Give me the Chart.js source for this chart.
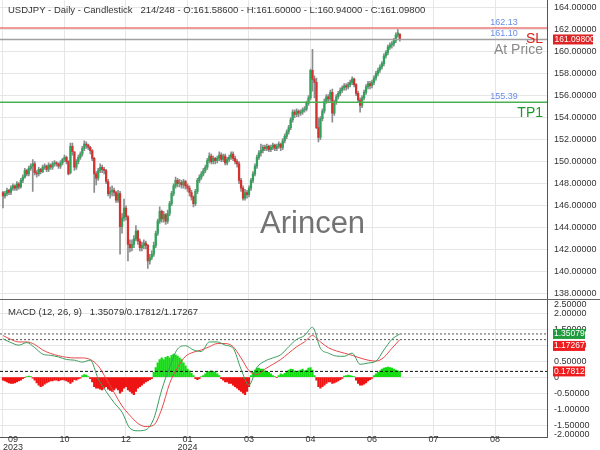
<!DOCTYPE html>
<html>
<head>
<meta charset="utf-8">
<script src="https://cdn.jsdelivr.net/npm/chart.js@4.4.1/dist/chart.umd.min.js"></script>
<style>
  html, body { margin: 0; padding: 0; background: #fff; }
  #wrap { position: relative; width: 600px; height: 450px; overflow: hidden; }
  #main { position: absolute; left: 0; top: 0; }
  #sep { position: absolute; left: 0; top: 299px; width: 600px; height: 1px; background: #666; }
  #macd { position: absolute; left: 0; top: 300px; }
</style>
</head>
<body>
<div id="wrap">
  <canvas id="main" width="600" height="299"></canvas>
  <div id="sep"></div>
  <canvas id="macd" width="600" height="150"></canvas>
</div>
<script>
// USDJPY daily candles (bar index 0..200)
const opens = [
  147.2,146.9,147.1,147.4,147.2,147.6,147.8,147.6,148.0,147.7,
  148.3,148.6,149.2,148.9,149.4,149.6,149.8,149.0,148.9,149.3,
  149.1,149.5,149.6,149.3,149.7,149.5,149.8,149.9,149.8,149.6,
  149.9,150.2,150.4,150.0,149.0,151.4,150.9,149.5,150.0,150.4,
  150.7,151.2,151.6,151.5,151.3,151.0,150.3,148.9,148.5,149.2,
  149.5,149.3,149.2,148.2,147.1,147.3,147.4,147.2,146.5,147.1,
  144.1,144.9,145.8,145.0,142.5,142.2,142.5,143.0,143.7,142.8,
  142.2,142.4,142.6,142.4,141.0,141.3,141.6,142.4,143.5,144.6,
  145.5,144.8,145.2,144.6,145.3,146.2,147.1,147.8,148.3,148.0,
  148.1,147.9,148.2,147.8,147.6,147.2,146.8,146.2,147.3,148.3,
  148.6,148.9,149.2,149.5,150.1,150.5,150.0,150.3,150.1,150.3,
  150.6,150.2,150.5,149.9,150.2,150.4,150.7,150.3,150.0,149.8,
  148.3,147.6,146.7,147.2,147.0,147.6,148.3,148.9,149.6,150.4,
  150.8,151.0,151.3,151.2,151.4,151.1,151.3,151.5,151.2,151.4,
  151.6,151.3,151.9,152.3,152.7,153.1,153.8,154.5,154.3,154.6,
  154.4,154.5,154.7,154.8,155.3,155.8,158.3,157.5,157.2,153.1,
  152.2,153.9,154.6,155.5,155.9,155.7,156.3,154.4,155.4,155.9,
  156.2,156.5,156.7,156.9,156.8,157.0,157.2,157.5,157.0,156.2,
  155.6,155.1,155.8,156.3,156.8,157.1,156.9,157.2,157.6,158.0,
  158.3,158.6,158.9,159.6,159.9,160.4,160.6,160.7,161.0,161.5,
  161.586
];
const highs = [
  147.3,147.3,147.6,147.5,147.8,148.0,147.9,148.2,148.1,148.5,
  148.8,149.4,149.3,149.6,149.8,150.2,150.0,149.2,149.5,149.4,
  149.7,149.8,149.7,149.9,149.8,150.0,150.1,150.0,149.9,150.1,
  150.3,150.6,150.5,150.1,151.7,151.7,150.9,150.2,150.6,150.9,
  151.4,151.9,151.8,151.6,151.4,151.1,150.4,149.1,149.4,149.8,
  149.7,149.5,149.3,148.4,147.7,147.8,147.6,147.3,147.4,147.3,
  145.3,146.6,146.0,145.1,142.9,142.9,143.3,144.2,143.8,143.0,
  142.7,142.9,142.8,142.5,141.6,141.9,142.7,143.7,144.8,145.9,
  145.6,145.5,145.3,145.6,146.4,147.3,148.0,148.6,148.5,148.4,
  148.3,148.4,148.3,148.0,147.8,147.4,146.9,147.5,148.5,148.8,
  149.1,149.4,149.7,150.3,150.8,150.7,150.5,150.4,150.5,150.9,
  150.8,150.7,150.7,150.4,150.6,150.9,150.9,150.5,150.2,150.0,
  148.5,147.8,147.5,147.4,147.8,148.5,149.1,149.8,150.6,151.0,
  151.6,151.5,151.5,151.6,151.5,151.5,151.7,151.6,151.6,151.8,
  151.7,152.1,152.5,152.9,153.3,154.0,154.7,154.7,154.8,154.7,
  154.7,154.9,155.0,155.5,156.0,158.4,160.2,157.8,157.6,154.0,
  154.1,154.8,155.7,156.1,156.1,156.5,156.6,155.6,156.1,156.4,
  156.7,156.9,157.1,157.1,157.2,157.4,157.7,157.6,157.1,156.4,
  155.8,156.0,156.5,157.0,157.3,157.3,157.4,157.8,158.2,158.5,
  158.8,159.1,159.8,160.1,160.6,160.8,160.9,161.2,161.7,162.0,
  161.6
];
const lows = [
  145.8,146.7,146.9,147.0,147.0,147.4,147.4,147.4,147.5,147.6,
  148.1,148.5,148.7,148.7,149.2,147.3,148.8,148.6,148.7,148.9,
  149.0,149.3,149.1,149.1,149.3,149.3,149.6,149.6,149.4,149.4,
  149.7,150.0,149.8,148.8,148.9,150.6,149.2,149.3,149.8,150.2,
  150.5,151.0,151.2,151.1,150.7,150.1,147.2,147.9,148.3,149.0,
  149.0,148.9,148.0,146.9,146.7,146.9,146.9,146.3,146.3,141.6,
  143.5,144.6,144.7,141.0,141.8,141.9,142.2,142.8,142.5,141.9,
  141.9,142.1,142.1,140.3,140.7,141.1,141.4,142.2,143.3,144.4,
  144.5,144.5,144.3,144.4,145.1,146.0,146.9,147.6,147.7,147.7,
  147.6,147.6,147.5,147.3,146.9,146.5,145.9,146.0,147.1,148.1,
  148.4,148.7,149.0,149.3,149.9,149.8,149.8,149.8,149.9,150.1,
  150.0,150.0,149.7,149.7,150.0,150.2,150.1,149.8,149.5,148.0,
  147.3,146.5,146.5,146.7,146.8,147.4,148.1,148.7,149.4,150.2,
  150.5,150.8,151.0,151.0,150.9,150.9,151.1,151.0,151.0,151.2,
  151.0,151.1,151.7,152.1,152.5,152.9,153.6,154.0,154.1,154.1,
  154.2,154.3,154.5,154.6,155.1,155.6,156.4,155.8,153.0,151.8,
  152.0,153.7,154.4,155.3,155.4,155.5,153.6,154.2,155.2,155.7,
  156.0,156.3,156.5,156.5,156.6,156.8,157.0,156.8,156.0,155.4,
  154.5,154.9,155.6,156.1,156.6,156.6,156.7,157.0,157.4,157.8,
  158.1,158.4,158.7,159.4,159.7,160.2,160.3,160.5,160.8,161.3,
  160.94
];
const closes = [
  146.9,147.1,147.4,147.2,147.6,147.8,147.6,148.0,147.7,148.3,
  148.6,149.2,148.9,149.4,149.6,149.8,149.0,148.9,149.3,149.1,
  149.5,149.6,149.3,149.7,149.5,149.8,149.9,149.8,149.6,149.9,
  150.2,150.4,150.0,148.9,151.4,150.9,149.5,150.0,150.4,150.7,
  151.2,151.6,151.5,151.3,151.0,150.3,148.9,148.5,149.2,149.5,
  149.3,149.2,148.2,147.1,147.3,147.4,147.2,146.5,147.1,144.1,
  144.9,145.8,145.0,142.5,142.2,142.5,143.0,143.7,142.8,142.2,
  142.4,142.6,142.4,141.0,141.3,141.6,142.4,143.5,144.6,145.5,
  144.8,145.2,144.6,145.3,146.2,147.1,147.8,148.3,148.0,148.1,
  147.9,148.2,147.8,147.6,147.2,146.8,146.2,147.3,148.3,148.6,
  148.9,149.2,149.5,150.1,150.5,150.0,150.3,150.1,150.3,150.6,
  150.2,150.5,149.9,150.2,150.4,150.7,150.3,150.0,149.8,148.3,
  147.6,146.7,147.2,147.0,147.6,148.3,148.9,149.6,150.4,150.8,
  151.0,151.3,151.2,151.4,151.1,151.3,151.5,151.2,151.4,151.6,
  151.3,151.9,152.3,152.7,153.1,153.8,154.5,154.3,154.6,154.4,
  154.5,154.7,154.8,155.3,155.8,158.3,157.5,157.2,153.1,152.2,
  153.9,154.6,155.5,155.9,155.7,156.3,154.4,155.4,155.9,156.2,
  156.5,156.7,156.9,156.8,157.0,157.2,157.5,157.0,156.2,155.6,
  155.1,155.8,156.3,156.8,157.1,156.9,157.2,157.6,158.0,158.3,
  158.6,158.9,159.6,159.9,160.4,160.6,160.7,161.0,161.5,161.7,
  161.098
];

// MACD (12, 26, 9): lines read every 4th bar, histogram every bar
const macd = [
  1.2,1.08,1.0,1.08,0.92,0.72,0.68,0.63,0.55,0.53,
  0.47,0.53,-0.05,-0.45,-0.8,-1.1,-1.6,-1.68,-1.65,-1.3,
  -0.4,0.31,0.88,0.98,0.85,0.8,1.1,1.1,1.0,0.9,
  0.25,-0.25,0.3,0.5,0.6,0.7,0.95,1.18,1.3,1.56,
  0.9,0.75,0.66,0.65,0.75,0.4,0.44,0.5,0.85,1.18,
  1.35079
];
const signal = [
  1.3,1.18,1.1,1.1,1.02,0.85,0.74,0.67,0.62,0.6,
  0.6,0.55,0.35,-0.05,-0.48,-0.9,-1.2,-1.45,-1.55,-1.5,
  -1.0,-0.2,0.3,0.65,0.78,0.85,0.95,1.05,1.05,0.95,
  0.6,0.2,0.08,0.25,0.4,0.55,0.75,0.95,1.1,1.3,
  1.1,0.92,0.82,0.75,0.68,0.6,0.53,0.5,0.62,0.9,
  1.17267
];
const hist = [
  -0.1,-0.12,-0.15,-0.18,-0.2,-0.2,-0.18,-0.15,-0.12,-0.1,
  -0.05,-0.02,0.02,0.03,0.02,-0.03,
  -0.1,-0.18,-0.25,-0.3,-0.28,-0.22,
  -0.18,-0.15,-0.12,-0.12,-0.1,-0.1,-0.12,-0.1,-0.08,-0.1,-0.12,-0.15,-0.2,-0.15,-0.08,-0.1,-0.06,-0.03,
  0.05,0.08,0.06,0.02,
  -0.05,-0.15,-0.3,-0.35,-0.35,-0.38,-0.4,-0.35,-0.3,-0.38,
  -0.42,-0.45,-0.4,-0.35,-0.4,-0.5,-0.45,-0.35,-0.3,-0.4,-0.45,-0.5,-0.55,-0.45,-0.35,
  -0.3,-0.25,-0.2,-0.15,-0.12,-0.08,-0.05,
  0.15,0.3,0.45,0.55,0.6,0.55,0.62,0.65,0.6,0.68,0.72,
  0.7,0.66,0.6,0.55,0.45,
  0.35,0.25,0.2,0.12,0.05,
  -0.05,-0.08,-0.05,0.02,
  0.05,0.1,0.15,0.18,0.2,0.18,0.15,0.1,0.05,
  -0.05,-0.1,-0.15,-0.15,-0.2,-0.2,-0.25,-0.3,-0.35,-0.4,
  -0.45,-0.5,-0.55,-0.45,-0.3,
  0.05,0.15,0.22,0.28,0.28,0.25,0.25,0.2,0.18,0.15,0.1,0.05,0.02,-0.02,0.05,0.1,0.08,
  0.12,0.18,0.22,0.25,0.24,0.2,0.18,0.2,0.22,0.25,0.2,0.22,0.28,0.3,0.22,0.05,
  -0.1,-0.3,-0.35,-0.3,-0.25,-0.2,-0.15,-0.15,-0.2,-0.18,-0.15,-0.12,-0.08,-0.04,
  0.03,0.05,0.06,0.05,0.03,0.01,
  -0.1,-0.2,-0.25,-0.25,-0.22,-0.18,-0.12,-0.08,-0.04,
  0.05,0.1,0.15,0.2,0.25,0.28,0.3,0.31,0.3,0.28,0.25,0.22,0.2,0.17812
];

// axes
const xTicks = [0, 31, 62, 93, 124, 155, 186, 217, 248];
const xTickLabels = [["09", "2023"], ["10"], ["12"], ["01", "2024"], ["03"], ["04"], ["06"], ["07"], ["08"]];
const priceTicks = [164, 162, 160, 158, 156, 154, 152, 150, 148, 146, 144, 142, 140, 138];
const macdTicks = [2, 1.5, 1, 0.5, 0, -0.5, -1, -1.5];

// trade levels
const levelValues = [162.13, 161.10, 155.39];
const levelNames = ["SL", "At Price", "TP1"];

const FONT = "'Liberation Sans', Arial, sans-serif";
const X_MIN = -1.5, X_MAX = 274.2;
const GRID = "#e6e6e6";
const levelColors = ["rgba(232,96,96,0.85)", "#a0a0a0", "#4caf50"];
const levelTextColors = ["#e0201c", "#8a8a8a", "#1c9a2c"];

Chart.defaults.font.family = FONT;
Chart.defaults.font.size = 9;
Chart.defaults.color = "#333";

function flatLine(v) {
  return [{ x: X_MIN, y: v }, { x: X_MAX, y: v }];
}
function setXTicks(scale) {
  scale.ticks = xTicks.map(v => ({ value: v }));
}
// right value axis; tiny line height keeps the axis from padding the plot
function valueAxis(min, max, ticks, fmt) {
  return {
    position: "right",
    min: min,
    max: max,
    afterBuildTicks: s => { s.ticks = ticks.map(v => ({ value: v })); },
    afterFit: s => { s.width = 53; },
    ticks: { padding: 0, color: "#333", font: { size: 9, lineHeight: 0.05 }, callback: fmt },
    grid: { color: GRID, drawTicks: true, tickLength: 7, tickColor: "rgba(0,0,0,0)" },
    border: { color: "#555" }
  };
}

const candleColors = closes.map((c, i) => (c >= opens[i] ? "#2ea35a" : "#d8302e"));
const lastClose = closes[closes.length - 1];
const lastIdx = closes.length - 1;

const mainOverlay = {
  id: "mainOverlay",
  afterDraw(chart) {
    const { ctx } = chart;
    const y = chart.scales.y;
    ctx.save();
    ctx.textBaseline = "middle";
    ctx.textAlign = "left";
    ctx.fillStyle = "#333";
    ctx.font = "9.5px " + FONT;
    ctx.fillText("USDJPY - Daily - Candlestick   214/248 - O:" + opens[lastIdx].toFixed(5) +
      " - H:" + highs[lastIdx].toFixed(5) + " - L:" + lows[lastIdx].toFixed(5) +
      " - C:" + lastClose.toFixed(5), 8, 10);

    ctx.font = "31px " + FONT;
    ctx.fillStyle = "rgba(80,80,80,0.8)";
    ctx.fillText("Arincen", 260, 224);

    levelValues.forEach((v, k) => {
      const py = y.getPixelForValue(v);
      ctx.font = "9px " + FONT;
      ctx.fillStyle = "#6a8ee6";
      ctx.textAlign = "center";
      ctx.textBaseline = "bottom";
      ctx.fillText(v.toFixed(2), 504, py - 1);
      ctx.font = "14px " + FONT;
      ctx.fillStyle = levelTextColors[k];
      ctx.textAlign = "right";
      ctx.textBaseline = "top";
      ctx.fillText(levelNames[k], 543, py + 4);
    });

    const py = y.getPixelForValue(lastClose);
    ctx.fillStyle = "#dc2424";
    ctx.fillRect(553, py - 5, 40, 10);
    ctx.fillStyle = "#fff";
    ctx.font = "8.5px " + FONT;
    ctx.textAlign = "left";
    ctx.textBaseline = "middle";
    ctx.fillText(lastClose.toFixed(5), 554.5, py);
    ctx.restore();
  }
};

new Chart(document.getElementById("main"), {
  type: "bar",
  data: {
    datasets: [
      {
        data: highs.map((h, i) => ({ x: i, y: [lows[i], h] })),
        backgroundColor: "#8c8c8c",
        barThickness: 1,
        grouped: false,
        order: 3
      },
      {
        data: closes.map((c, i) => ({ x: i, y: [opens[i], c] })),
        backgroundColor: candleColors,
        barThickness: 1.6,
        minBarLength: 1,
        grouped: false,
        order: 2
      },
      ...levelValues.map((v, k) => ({
        type: "line",
        data: flatLine(v),
        borderColor: levelColors[k],
        borderWidth: 1.5,
        pointRadius: 0,
        order: 1
      }))
    ]
  },
  options: {
    responsive: false,
    animation: false,
    layout: { padding: 0, autoPadding: false },
    plugins: { legend: { display: false }, tooltip: { enabled: false } },
    scales: {
      x: {
        type: "linear",
        offset: false,
        min: X_MIN,
        max: X_MAX,
        afterBuildTicks: setXTicks,
        ticks: { display: false },
        grid: { color: GRID, drawTicks: false, offset: false },
        border: { display: false }
      },
      y: valueAxis(137.554, 164.662, priceTicks, v => v.toFixed(5))
    }
  },
  plugins: [mainOverlay]
});

const macdLast = macd[macd.length - 1];
const signalLast = signal[signal.length - 1];
const histLast = hist[hist.length - 1];

const macdOverlay = {
  id: "macdOverlay",
  afterDraw(chart) {
    const { ctx, chartArea } = chart;
    const x = chart.scales.x;
    const y = chart.scales.y;
    ctx.save();
    ctx.font = "9.5px " + FONT;
    ctx.fillStyle = "#333";
    ctx.textAlign = "left";
    ctx.textBaseline = "middle";
    ctx.fillText("MACD (12, 26, 9)   " + macdLast.toFixed(5) + "/" + histLast.toFixed(5) + "/" +
      signalLast.toFixed(5), 8, 12);

    // edge labels of the value axis
    ctx.font = "9px " + FONT;
    ctx.fillText("2.50000", 554, 5);
    ctx.save();
    ctx.beginPath();
    ctx.rect(548, 0, 52, chartArea.bottom);
    ctx.clip();
    ctx.fillText("-2.00000", 554, 135);
    ctx.restore();

    // time labels
    ctx.textAlign = "center";
    ctx.fillStyle = "#333";
    xTicks.forEach((v, k) => {
      const px = Math.max(x.getPixelForValue(v), 13);
      xTickLabels[k].forEach((line, j) => ctx.fillText(line, px, chartArea.bottom + 3 + j * 8));
    });

    // value badges
    const badges = [
      [macdLast, "#1f9a3c"],
      [signalLast, "#ee1c1c"],
      [histLast, "#ee1c1c"]
    ];
    let prevBottom = -Infinity;
    ctx.textAlign = "left";
    ctx.font = "8.5px " + FONT;
    badges.forEach(([v, col]) => {
      let top = y.getPixelForValue(v) - 5;
      if (top < prevBottom + 2) top = prevBottom + 2;
      ctx.fillStyle = col;
      ctx.fillRect(553, top, 32, 10);
      ctx.fillStyle = "#fff";
      ctx.fillText(v.toFixed(5), 554, top + 5);
      prevBottom = top + 10;
    });
    ctx.restore();
  }
};

new Chart(document.getElementById("macd"), {
  type: "bar",
  data: {
    datasets: [
      {
        data: hist.map((v, i) => ({ x: i, y: v })),
        backgroundColor: hist.map(v => (v >= 0 ? "#12dd12" : "#ee1414")),
        barThickness: 1.6,
        grouped: false,
        order: 3
      },
      {
        type: "line",
        data: macd.map((v, k) => ({ x: k * 4, y: v })),
        borderColor: "#3a9e5e",
        borderWidth: 1,
        pointRadius: 0,
        cubicInterpolationMode: "monotone",
        order: 1
      },
      {
        type: "line",
        data: signal.map((v, k) => ({ x: k * 4, y: v })),
        borderColor: "#e84848",
        borderWidth: 1,
        pointRadius: 0,
        cubicInterpolationMode: "monotone",
        order: 1
      },
      { type: "line", data: flatLine(macdLast), borderColor: "#555", borderWidth: 1, borderDash: [2, 2], pointRadius: 0, order: 2 },
      { type: "line", data: flatLine(signalLast), borderColor: "#555", borderWidth: 1, borderDash: [2, 2], pointRadius: 0, order: 2 },
      { type: "line", data: flatLine(histLast), borderColor: "#111", borderWidth: 1, borderDash: [3, 2], pointRadius: 0, order: 2 }
    ]
  },
  options: {
    responsive: false,
    animation: false,
    layout: { padding: 0, autoPadding: false },
    plugins: { legend: { display: false }, tooltip: { enabled: false } },
    scales: {
      x: {
        type: "linear",
        offset: false,
        min: X_MIN,
        max: X_MAX,
        afterBuildTicks: setXTicks,
        afterFit: s => { s.height = 13; },
        ticks: { display: false },
        grid: { color: GRID, drawTicks: false, offset: false },
        border: { color: "#555" }
      },
      y: valueAxis(-1.875, 2.406, macdTicks, v => (v === 0 ? "0" : v.toFixed(5)))
    }
  },
  plugins: [macdOverlay]
});
</script>
</body>
</html>
